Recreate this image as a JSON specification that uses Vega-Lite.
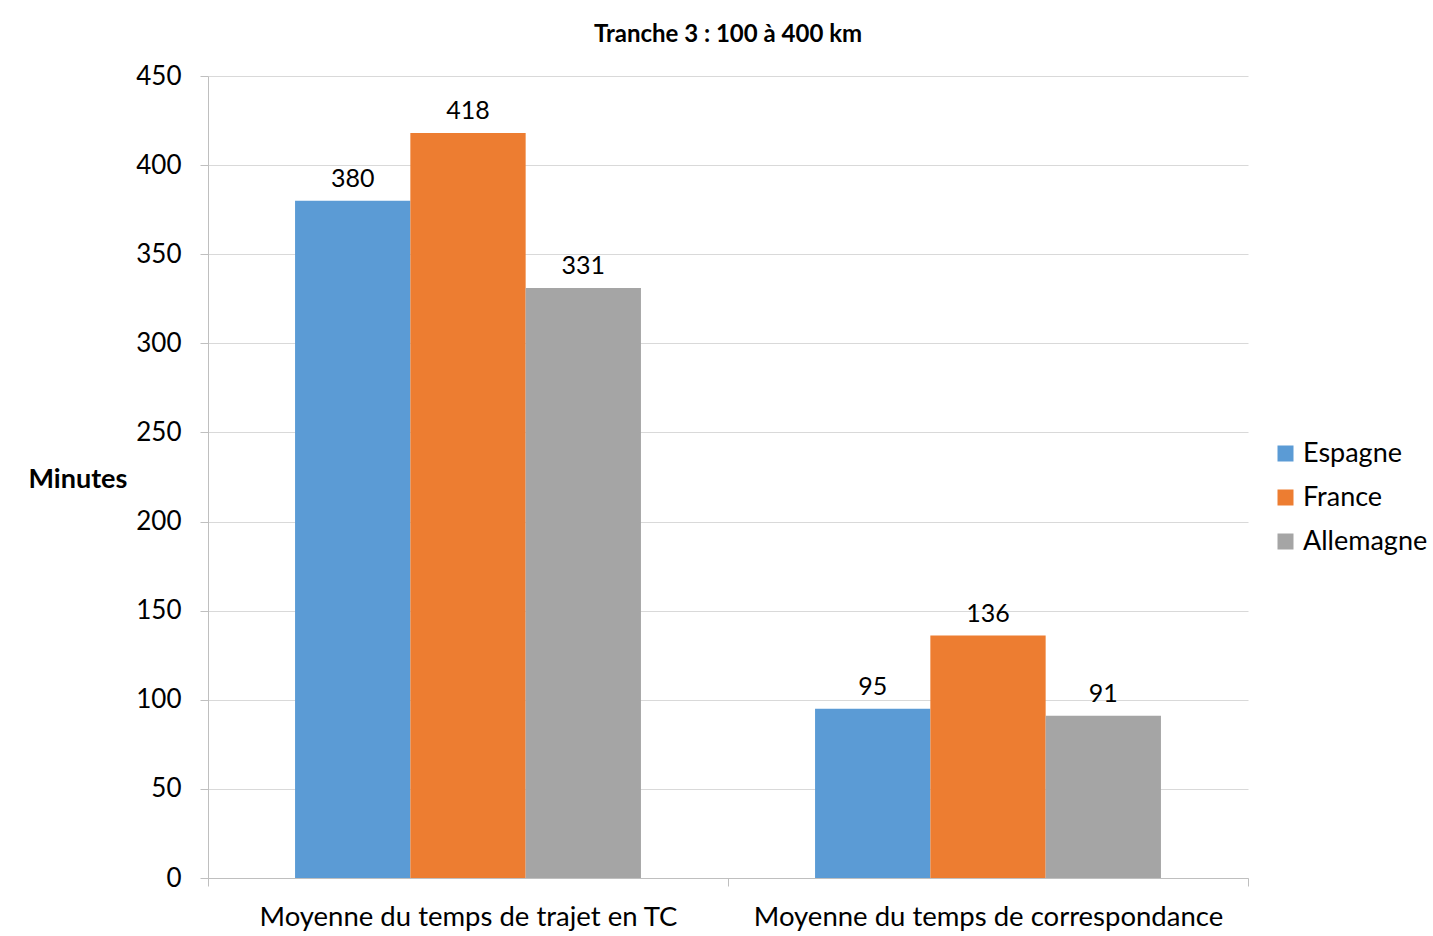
{
  "$schema": "https://vega.github.io/schema/vega-lite/v6.json",
  "autosize": "none",
  "width": 1040,
  "height": 802,
  "padding": {"left": 208, "top": 76, "right": 185, "bottom": 58},
  "background": "white",
  "title": {"text": "Tranche 3 : 100 à 400 km", "font": "Lato", "fontSize": 24, "fontWeight": "bold", "color": "#000000", "anchor": "middle", "offset": 16},
  "config": {"view": {"stroke": null}, "font": "Lato"},
  "data": {"values": [
    {"cat": "Moyenne du temps de trajet en TC", "pays": "Espagne", "v": 380},
    {"cat": "Moyenne du temps de trajet en TC", "pays": "France", "v": 418},
    {"cat": "Moyenne du temps de trajet en TC", "pays": "Allemagne", "v": 331},
    {"cat": "Moyenne du temps de correspondance", "pays": "Espagne", "v": 95},
    {"cat": "Moyenne du temps de correspondance", "pays": "France", "v": 136},
    {"cat": "Moyenne du temps de correspondance", "pays": "Allemagne", "v": 91}
  ]},
  "encoding": {
    "x": {"field": "cat", "type": "nominal", "sort": null,
      "scale": {"paddingInner": 0, "paddingOuter": 0},
      "axis": {"title": null, "labelAngle": 0, "labelFontSize": 27.5, "labelColor": "#000000", "labelPadding": 17, "tickBand": "extent", "tickSize": 8, "tickColor": "#bfbfbf", "domainColor": "#bfbfbf", "grid": false, "labelLimit": 600}},
    "xOffset": {"field": "pays", "type": "nominal", "sort": ["Espagne", "France", "Allemagne"], "scale": {"paddingInner": 0, "paddingOuter": 0.755}},
    "y": {"field": "v", "type": "quantitative",
      "scale": {"domain": [0, 450], "nice": false},
      "axis": {"title": "Minutes", "titleAngle": 0, "titleFontSize": 27, "titleFontWeight": "bold", "titleColor": "#000000", "titleX": -180, "titleY": 403, "titleAlign": "left", "titleBaseline": "middle",
        "values": [0, 50, 100, 150, 200, 250, 300, 350, 400, 450], "labelFontSize": 26, "labelColor": "#000000", "labelPadding": 19, "tickSize": 8, "tickColor": "#bfbfbf", "domainColor": "#bfbfbf", "gridColor": "#d9d9d9", "labelFlush": false}}
  },
  "layer": [
    {"mark": {"type": "bar"},
     "encoding": {"color": {"field": "pays", "type": "nominal", "sort": ["Espagne", "France", "Allemagne"],
       "scale": {"domain": ["Espagne", "France", "Allemagne"], "range": ["#5B9BD5", "#ED7D31", "#A5A5A5"]},
       "legend": {"title": null, "orient": "none", "legendX": 1064, "legendY": 364, "symbolType": "square", "symbolSize": 256, "symbolStrokeWidth": 0, "labelFontSize": 27, "labelColor": "#000000", "rowPadding": 16, "labelOffset": 4}}}},
    {"mark": {"type": "text", "baseline": "bottom", "dy": -9, "fontSize": 25, "color": "#000000"},
     "encoding": {"text": {"field": "v", "type": "quantitative"}}}
  ]
}
